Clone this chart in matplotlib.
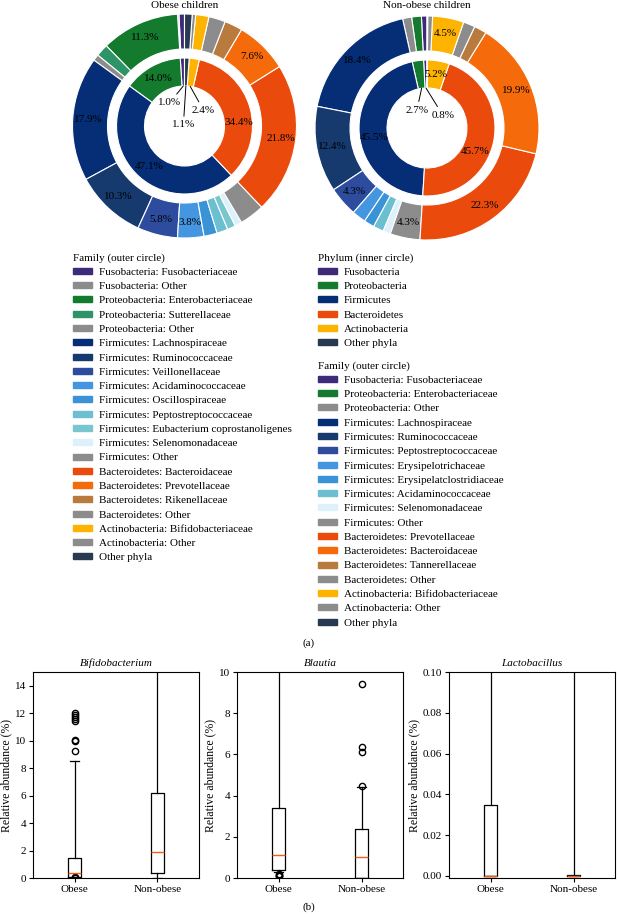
import numpy as np
import matplotlib
matplotlib.use('Agg')
import matplotlib.pyplot as plt
from matplotlib.patches import Patch

plt.rcParams['font.family'] = ['Liberation Serif', 'DejaVu Serif']
plt.rcParams['font.size'] = 8

# ---- data (a): donut charts ----
phyla = ['Fusobacteria', 'Proteobacteria', 'Firmicutes', 'Bacteroidetes',
         'Actinobacteria', 'Other phyla']
phylum_colors = ['#3d2b7a', '#137a2e', '#062e77', '#ea4a0c', '#fdb300', '#283a52']
obese_phylum = [1.0, 14.0, 47.1, 34.4, 2.4, 1.1]
nonobese_phylum = [0.8, 2.7, 45.5, 45.7, 5.2, 0.1]

GRAY = '#8c8c8c'
obese_families = [
    'Fusobacteria: Fusobacteriaceae', 'Fusobacteria: Other',
    'Proteobacteria: Enterobacteriaceae', 'Proteobacteria: Sutterellaceae',
    'Proteobacteria: Other', 'Firmicutes: Lachnospiraceae',
    'Firmicutes: Ruminococcaceae', 'Firmicutes: Veillonellaceae',
    'Firmicutes: Acidaminococcaceae', 'Firmicutes: Oscillospiraceae',
    'Firmicutes: Peptostreptococcaceae', 'Firmicutes: Eubacterium coprostanoligenes',
    'Firmicutes: Selenomonadaceae', 'Firmicutes: Other',
    'Bacteroidetes: Bacteroidaceae', 'Bacteroidetes: Prevotellaceae',
    'Bacteroidetes: Rikenellaceae', 'Bacteroidetes: Other',
    'Actinobacteria: Bifidobacteriaceae', 'Actinobacteria: Other', 'Other phyla']
obese_family_pct = [0.8, 0.2, 11.3, 1.8, 0.9, 17.9, 10.3, 5.8, 3.8, 1.9, 1.6,
                    1.2, 1.0, 3.6, 21.8, 7.6, 2.6, 2.4, 1.9, 0.5, 1.1]
obese_family_colors = ['#3d2b7a', GRAY, '#137a2e', '#2e9467', GRAY, '#062e77',
                       '#163a6e', '#2e4c9e', '#4596e0', '#3a93d6', '#6cbfd0',
                       '#7ac6cf', '#ddf1fa', GRAY, '#ea4a0c', '#f56a0a',
                       '#b97a3e', GRAY, '#fdb300', GRAY, '#283a52']

nonobese_families = [
    'Fusobacteria: Fusobacteriaceae', 'Proteobacteria: Enterobacteriaceae',
    'Proteobacteria: Other', 'Firmicutes: Lachnospiraceae',
    'Firmicutes: Ruminococcaceae', 'Firmicutes: Peptostreptococcaceae',
    'Firmicutes: Erysipelotrichaceae', 'Firmicutes: Erysipelatclostridiaceae',
    'Firmicutes: Acidaminococcaceae', 'Firmicutes: Selenomonadaceae',
    'Firmicutes: Other', 'Bacteroidetes: Prevotellaceae',
    'Bacteroidetes: Bacteroidaceae', 'Bacteroidetes: Tannerellaceae',
    'Bacteroidetes: Other', 'Actinobacteria: Bifidobacteriaceae',
    'Actinobacteria: Other', 'Other phyla']
nonobese_family_pct = [0.8, 1.4, 1.3, 18.4, 12.4, 4.3, 2.0, 1.5, 1.5, 1.1, 4.3,
                       22.3, 19.9, 1.8, 1.7, 4.5, 0.7, 0.1]
nonobese_family_colors = ['#3d2b7a', '#137a2e', GRAY, '#062e77', '#163a6e',
                          '#2e4c9e', '#4596e0', '#3a93d6', '#6cbfd0', '#ddf1fa',
                          GRAY, '#ea4a0c', '#f56a0a', '#b97a3e', GRAY, '#fdb300',
                          GRAY, '#283a52']

# ---- data (b): box plots (summary stats) ----
groups = ['Obese', 'Non-obese']
genera = ['Bifidobacterium', 'Blautia', 'Lactobacillus']
q1 = [[0.1, 0.35], [0.38, 0.0], [0.0, 0.0]]
med = [[0.4, 1.9], [1.12, 1.02], [0.0002, 0.0001]]
q3 = [[1.45, 6.2], [3.42, 2.4], [0.035, 0.0004]]
whislo = [[0.09, 0.0], [0.3, 0.0], [0.0, 0.0]]
whishi = [[8.55, 20.0], [12.0, 4.4], [0.2, 0.2]]
fliers = [[[0.03, 0.06, 9.25, 10.0, 10.05, 11.4, 11.55, 11.75, 11.9, 12.05], []],
          [[0.08, 0.12, 0.16, 0.2], [4.45, 6.1, 6.35, 9.4]],
          [[], []]]
ylims = [(0, 15), (0, 10), (-0.001, 0.1)]
yticks = [np.arange(0, 15, 2), np.arange(0, 11, 2), np.arange(0, 0.101, 0.02)]
ytick_fmt = ['{:.0f}', '{:.0f}', '{:.2f}']

W, H = 618, 917
fig = plt.figure(figsize=(W / 100, H / 100), dpi=100)

R_PX = 112
HOLE = 0.357
IN_R = 0.607
OUT_IN = 0.6875
FS = 8


def donut(cx, cy, title, phylum_vals, fam_vals, fam_colors, leader_pos, nudge):
    ax = fig.add_axes([(cx - R_PX) / W, 1 - (cy + R_PX) / H, 2 * R_PX / W, 2 * R_PX / H])
    outer, _ = ax.pie(fam_vals, radius=1, colors=fam_colors, startangle=90,
                      counterclock=True,
                      wedgeprops=dict(width=1 - OUT_IN, edgecolor='white', linewidth=0.8))
    inner, _ = ax.pie(phylum_vals, radius=IN_R, colors=phylum_colors, startangle=90,
                      counterclock=True,
                      wedgeprops=dict(width=IN_R - HOLE, edgecolor='white', linewidth=0.8))
    ax.set_xlim(-1, 1)
    ax.set_ylim(-1, 1)
    ax.set_aspect('equal')

    r_out = (OUT_IN + 1) / 2 + 0.02
    for w, v in zip(outer, fam_vals):
        if v >= 3.7:
            a = np.deg2rad((w.theta1 + w.theta2) / 2)
            ax.text(r_out * np.cos(a), r_out * np.sin(a), f'{v:.1f}%',
                    ha='center', va='center', fontsize=FS)
    r_in = (HOLE + IN_R) / 2
    for i, (w, v) in enumerate(zip(inner, phylum_vals)):
        a = np.deg2rad((w.theta1 + w.theta2) / 2 + nudge.get(i, 0))
        if v >= 5:
            ax.text(r_in * np.cos(a), r_in * np.sin(a), f'{v:.1f}%',
                    ha='center', va='center', fontsize=FS)
        elif i in leader_pos:
            ax.annotate(f'{v:.1f}%', xy=(HOLE * np.cos(a), HOLE * np.sin(a)),
                        xytext=leader_pos[i], ha='center', va='center', fontsize=FS,
                        arrowprops=dict(arrowstyle='-', color='black', lw=0.7,
                                        shrinkA=1, shrinkB=0))
    fig.text(cx / W, 1 - 5 / H, title, ha='center', va='center', fontsize=FS)


donut(184.5, 126, 'Obese children', obese_phylum, obese_family_pct,
      obese_family_colors, {0: (-0.13, 0.21), 5: (-0.01, 0.01), 4: (0.17, 0.14)},
      {3: -12})
donut(427, 128, 'Non-obese children', nonobese_phylum, nonobese_family_pct,
      nonobese_family_colors, {1: (-0.09, 0.16), 0: (0.14, 0.116)},
      {2: 6, 3: -15})

leg_kw = dict(loc='upper left', frameon=False, alignment='left', fontsize=FS,
              title_fontsize=FS, handlelength=1.75, handleheight=0.45,
              handletextpad=0.6, labelspacing=0.475, borderpad=0, borderaxespad=0)

h = [Patch(color=c) for c in obese_family_colors]
fig.legend(h, obese_families, title='Family (outer circle)',
           bbox_to_anchor=(73 / W, 1 - 253 / H), **leg_kw)
h = [Patch(color=c) for c in phylum_colors]
fig.legend(h, phyla, title='Phylum (inner circle)',
           bbox_to_anchor=(318 / W, 1 - 253 / H), **leg_kw)
h = [Patch(color=c) for c in nonobese_family_colors]
fig.legend(h, nonobese_families, title='Family (outer circle)',
           bbox_to_anchor=(318 / W, 1 - 361 / H), **leg_kw)

fig.text(309 / W, 1 - 643 / H, '(a)', ha='center', va='center', fontsize=FS)
fig.text(309 / W, 1 - 907 / H, '(b)', ha='center', va='center', fontsize=FS)

# ---- (b) box plots ----
lefts = [33, 237, 449]
for k, g in enumerate(genera):
    ax = fig.add_axes([lefts[k] / W, 1 - 878 / H, 166 / W, 206 / H])
    stats = []
    for j in range(2):
        stats.append(dict(med=med[k][j], q1=q1[k][j], q3=q3[k][j],
                          whislo=whislo[k][j], whishi=whishi[k][j],
                          fliers=fliers[k][j], label=groups[j]))
    ax.bxp(stats, positions=[1, 2], widths=0.15, capwidths=0.1,
           boxprops=dict(color='black', lw=0.9),
           whiskerprops=dict(color='black', lw=0.9),
           capprops=dict(color='black', lw=0.9),
           medianprops=dict(color='#f25c19', lw=1.0),
           flierprops=dict(marker='o', markerfacecolor='none', markeredgecolor='black',
                           markersize=4.5, markeredgewidth=1.0))
    ax.set_xlim(0.5, 2.5)
    ax.set_ylim(*ylims[k])
    ax.set_yticks(yticks[k])
    ax.set_yticklabels([ytick_fmt[k].format(t) for t in yticks[k]])
    ax.set_title(g, style='italic', fontsize=FS, pad=4)
    ax.set_ylabel('Relative abundance (%)', fontsize=8.5, labelpad=2)
    ax.tick_params(labelsize=FS, length=3, width=0.8, pad=2)
    for s in ax.spines.values():
        s.set_linewidth(0.8)

fig.savefig('out.png', dpi=100)
